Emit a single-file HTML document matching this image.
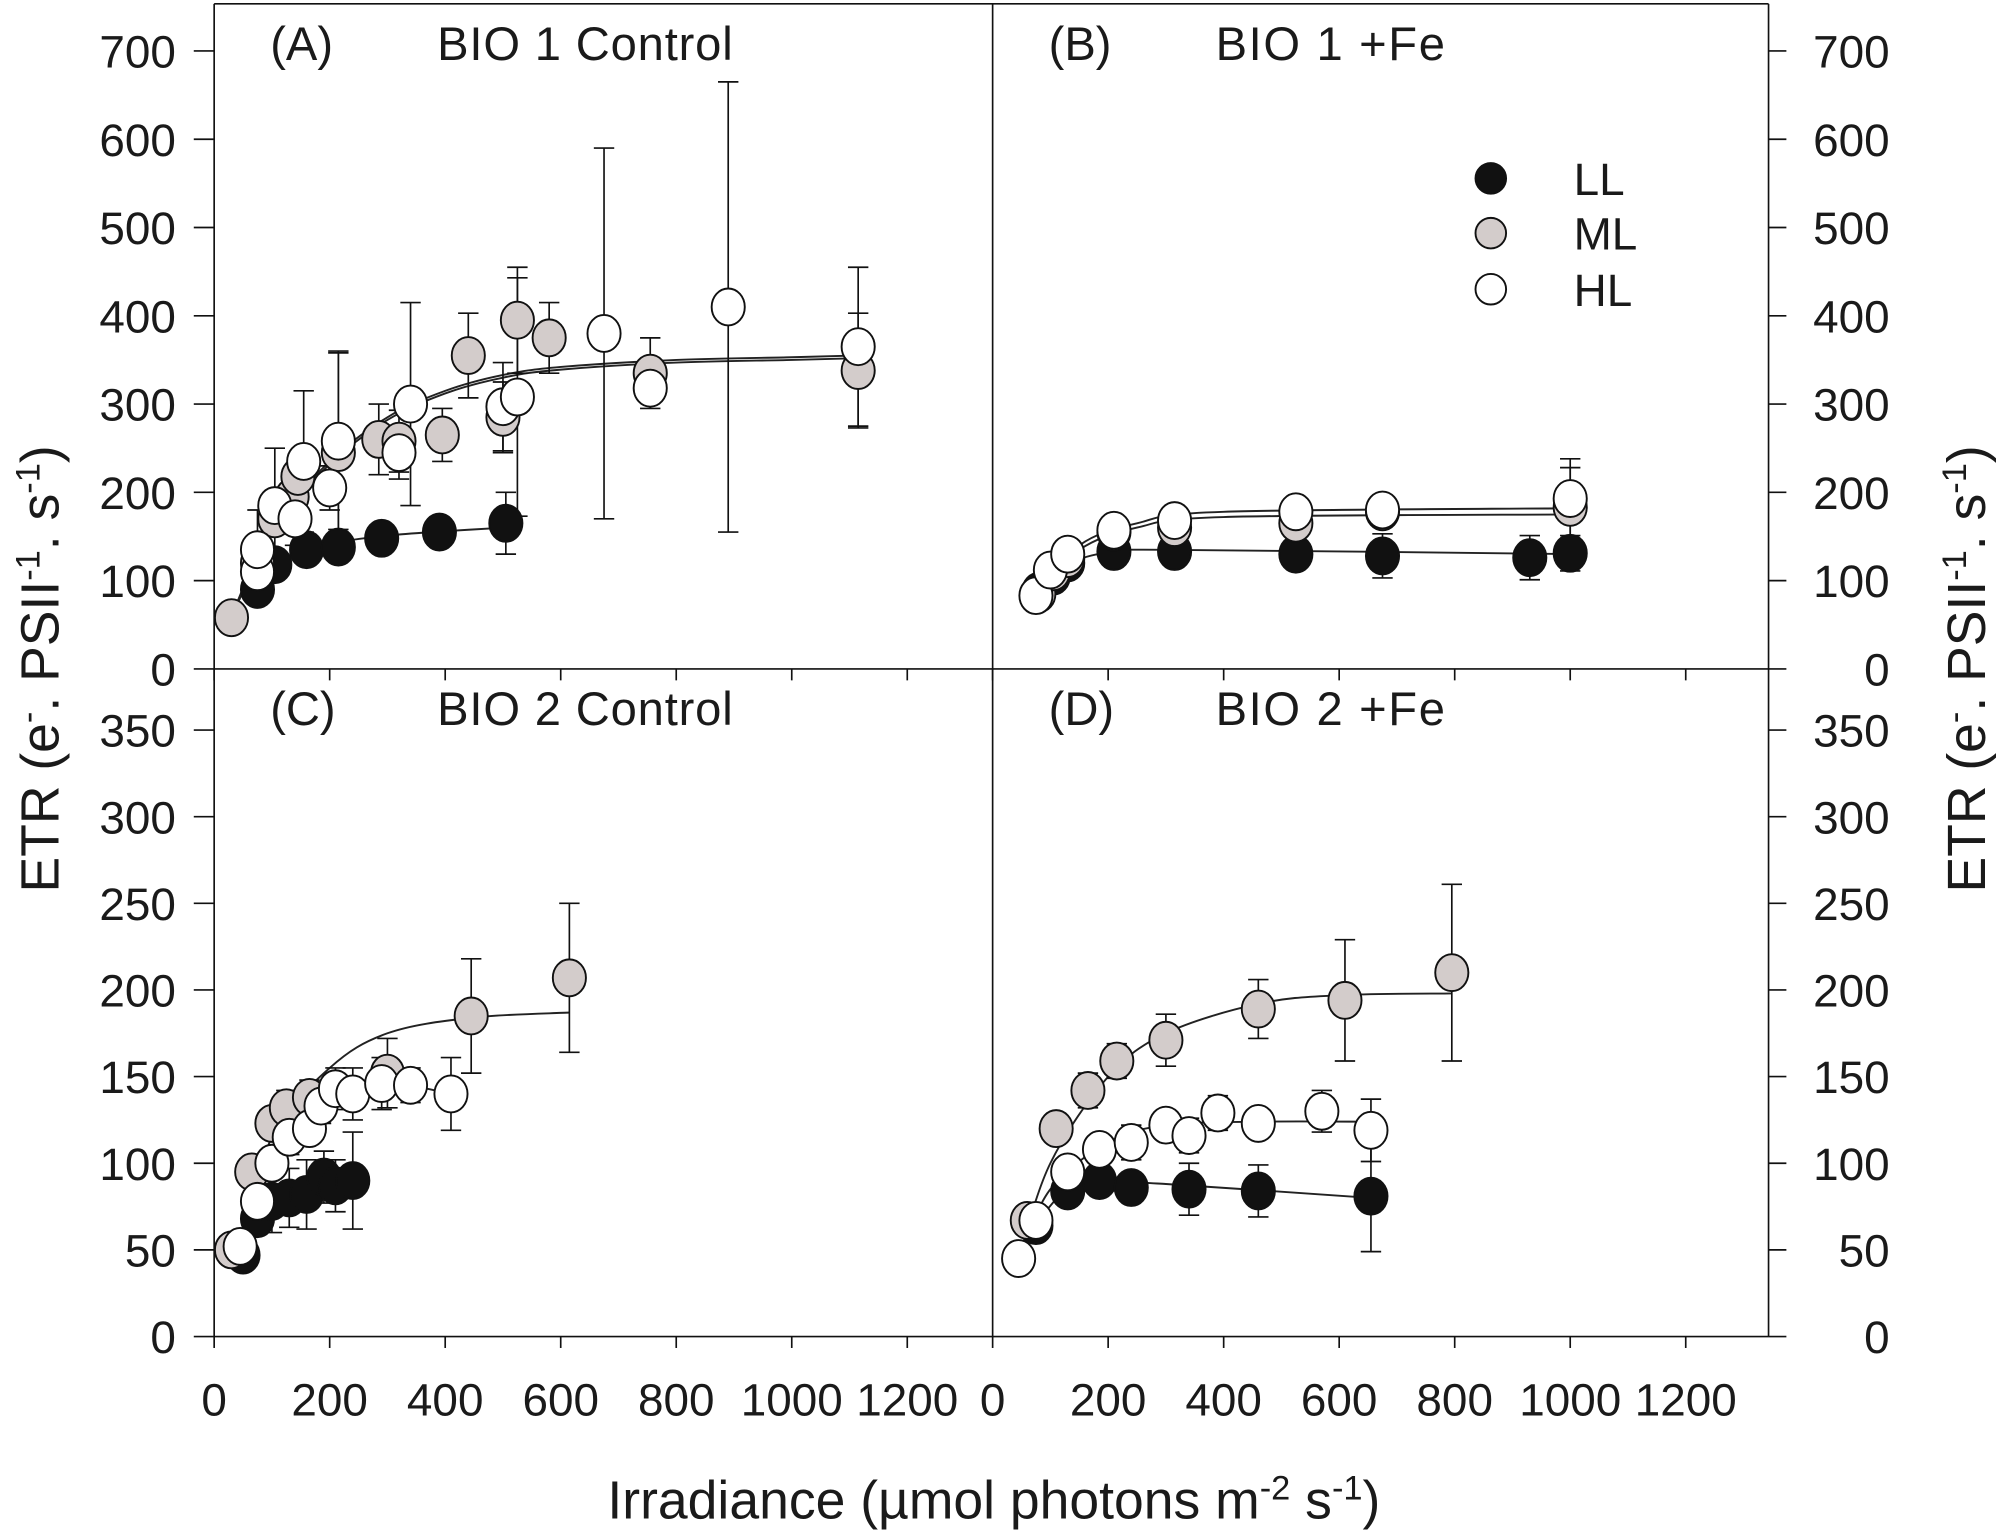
<!DOCTYPE html>
<html><head><meta charset="utf-8"><style>
html,body{margin:0;padding:0;background:#fff;}
svg text{font-family:"Liberation Sans",sans-serif;fill:#1a1a1a;}
</style></head><body>
<svg id="chart" width="1998" height="1534" viewBox="0 0 1568 1204" xmlns="http://www.w3.org/2000/svg">
<g id="frame"></g>
<g id="plots"></g>
<g>
 <circle cx="1170" cy="140" r="12" fill="#111" stroke="#111" stroke-width="1.5"/>
 <text x="1235" y="153" font-size="36">LL</text>
 <circle cx="1170" cy="183" r="12" fill="#d3cccb" stroke="#111" stroke-width="1.5"/>
 <text x="1235" y="196" font-size="36">ML</text>
 <circle cx="1170" cy="227" r="12" fill="#fff" stroke="#111" stroke-width="1.5"/>
 <text x="1235" y="240" font-size="36">HL</text>
</g>
<text x="212" y="47" font-size="37">(A)</text>
<text x="343" y="47" font-size="37" textLength="232">BIO 1 Control</text>
<text x="823" y="47" font-size="37">(B)</text>
<text x="954" y="47" font-size="37" textLength="180">BIO 1 +Fe</text>
<text x="212" y="569" font-size="37">(C)</text>
<text x="343" y="569" font-size="37" textLength="232">BIO 2 Control</text>
<text x="823" y="569" font-size="37">(D)</text>
<text x="954" y="569" font-size="37" textLength="180">BIO 2 +Fe</text>
<text transform="translate(46,525) rotate(-90)" text-anchor="middle" font-size="42">ETR (e<tspan dy="-15" font-size="27">-</tspan><tspan dy="15">. PSII</tspan><tspan dy="-15" font-size="27">-1</tspan><tspan dy="15">. s</tspan><tspan dy="-15" font-size="27">-1</tspan><tspan dy="15">)</tspan></text>
<text transform="translate(1558,525) rotate(-90)" text-anchor="middle" font-size="42">ETR (e<tspan dy="-15" font-size="27">-</tspan><tspan dy="15">. PSII</tspan><tspan dy="-15" font-size="27">-1</tspan><tspan dy="15">. s</tspan><tspan dy="-15" font-size="27">-1</tspan><tspan dy="15">)</tspan></text>
<text x="780" y="1192" text-anchor="middle" font-size="42">Irradiance (µmol photons m<tspan dy="-15" font-size="27">-2</tspan><tspan dy="15"> s</tspan><tspan dy="-15" font-size="27">-1</tspan><tspan dy="15">)</tspan></text>
</svg>
<script>
// ---- data ----
const xTicks=[0,200,400,600,800,1000,1200];
const yTicksTop=[0,100,200,300,400,500,600,700];
const yTicksBottom=[0,50,100,150,200,250,300,350];
// Panel A
const aLLx=[75,105,160,215,290,390,505];
const aLLy=[90,118,135,138,148,155,165];
const aLLe=[0,0,10,10,8,15,35];
const aMLx=[30,75,105,135,145,215,285,320,395,440,500,525,580,755,1115];
const aMLy=[58,120,170,195,218,245,260,258,265,355,285,395,375,335,338];
const aMLe=[0,0,15,20,25,115,40,35,30,48,40,60,40,40,65];
const aHLx=[75,75,105,140,155,200,215,320,340,500,525,675,755,890,1115];
const aHLy=[110,135,185,170,235,205,258,245,300,297,308,380,318,410,365];
const aHLe=[0,45,65,30,80,25,100,30,115,50,135,210,15,255,90];
const aFitLLx=[75,100,150,200,300,400,505];
const aFitLLy=[88,112,133,142,151,156,160];
const aFitMLx=[30,100,200,300,400,500,600,800,1000,1115];
const aFitMLy=[60,160,235,285,315,333,342,350,353,355];
// Panel B
const bLLx=[80,105,130,210,315,525,675,930,1000];
const bLLy=[88,105,120,133,133,130,128,126,131];
const bLLe=[0,0,8,5,5,15,25,25,20];
const bMLx=[80,105,130,210,315,525,675,1000];
const bMLy=[85,110,125,155,160,165,178,183];
const bMLe=[0,0,5,5,10,12,15,45];
const bHLx=[75,100,130,210,315,525,675,1000];
const bHLy=[83,112,130,157,168,178,180,193];
const bHLe=[0,0,5,5,10,15,15,45];
const bFitLLx=[75,130,200,300,1000];
const bFitLLy=[85,118,132,135,130];
const bFitMLx=[75,150,250,400,1000];
const bFitMLy=[85,135,160,172,175];
const bFitHLx=[75,150,250,400,1000];
const bFitHLy=[85,140,165,178,182];
// Panel C
const cLLx=[50,75,100,130,160,190,210,240];
const cLLy=[47,68,78,80,82,92,87,90];
const cLLe=[0,0,18,17,20,15,15,28];
const cMLx=[30,65,100,125,165,300,445,615];
const cMLy=[50,95,123,132,138,152,185,207];
const cMLe=[0,0,0,10,10,20,33,43];
const cHLx=[45,75,100,130,165,185,210,240,290,340,410];
const cHLy=[52,78,100,115,120,133,143,140,146,145,140];
const cHLe=[0,0,0,10,8,10,12,15,15,10,21];
const cFitLLx=[45,75,100,240];
const cFitLLy=[45,68,76,90];
const cFitMLx=[40,100,200,300,445,615];
const cFitMLy=[45,115,155,175,184,187];
const cFitHLx=[40,100,200,300,410];
const cFitHLy=[45,100,137,146,140];
// Panel D
const dLLx=[75,130,185,240,340,460,655];
const dLLy=[64,84,90,86,85,84,81];
const dLLe=[0,0,8,8,15,15,32];
const dMLx=[60,110,165,215,300,460,610,795];
const dMLy=[67,120,142,159,171,189,194,210];
const dMLe=[0,0,10,10,15,17,35,51];
const dHLx=[45,75,130,185,240,300,340,390,460,570,655];
const dHLy=[45,67,95,108,112,122,116,129,123,130,119];
const dHLe=[0,0,0,8,10,8,10,10,8,12,18];
const dFitLLx=[75,130,200,300,655];
const dFitLLy=[65,85,89,88,80];
const dFitMLx=[45,100,200,300,460,600,795];
const dFitMLy=[45,100,150,175,192,197,198];
const dFitHLx=[45,100,200,300,460,655];
const dFitHLy=[45,85,112,122,124,124];

// ---- drawing ----
const NS="http://www.w3.org/2000/svg";
const frame=document.getElementById('frame');
const plots=document.getElementById('plots');
function mk(tag,parent,attrs){const e=document.createElementNS(NS,tag);for(const k in attrs)e.setAttribute(k,attrs[k]);parent.appendChild(e);return e;}
const L=168,M=779,R=1388,T=3,MID=525,B=1049;
const COL={LL:'#111',ML:'#d3cccb',HL:'#fff'};
function xs(x0){return v=>x0+v*(544/1200);}
function ysTop(v){return MID-v*(485/700);}
function ysBot(v){return B-v*(476/350);}

[[L,T,R,T],[L,T,L,B],[M,T,M,B],[R,T,R,B],[L,MID,R,MID],[L,B,R,B]].forEach(c=>{
 const ln=mk('line',frame,{x1:c[0],y1:c[1],x2:c[2],y2:c[3],stroke:'#111','stroke-width':1.3});
 
 
});
function yAxis(ticks,ys,side,name){
 ticks.forEach(t=>{
  const y=ys(t);
  if(side==='left'){
   const tk=mk('line',frame,{x1:L-16,y1:y,x2:L,y2:y,stroke:'#111','stroke-width':1.3});
   
   const tx=mk('text',frame,{x:138,y:y+13,'text-anchor':'end','font-size':36});
   tx.textContent=t;
  }else{
   const tk=mk('line',frame,{x1:R,y1:y,x2:R+14,y2:y,stroke:'#111','stroke-width':1.3});
   
   const tx=mk('text',frame,{x:1483,y:y+13,'text-anchor':'end','font-size':36});
   tx.textContent=t;
  }
 });
}
yAxis(yTicksTop,ysTop,'left','y-left-top');
yAxis(yTicksBottom,ysBot,'left','y-left-bottom');
yAxis(yTicksTop,ysTop,'right','y-right-top');
yAxis(yTicksBottom,ysBot,'right','y-right-bottom');
[L,M].forEach(x0=>{
 const sx=xs(x0);
 xTicks.forEach(t=>{
  [MID,B].forEach(yb=>{
   const tk=mk('line',frame,{x1:sx(t),y1:yb,x2:sx(t),y2:yb+9,stroke:'#111','stroke-width':1.3});
   
  });
  const tx=mk('text',frame,{x:sx(t),y:1111,'text-anchor':'middle','font-size':36});
  tx.textContent=t;
 });
});

function fit(xArr,yArr,sx,sy,name){
 const P=xArr.map((v,i)=>[sx(v),sy(yArr[i])]);
 let d='M'+P[0][0].toFixed(1)+','+P[0][1].toFixed(1);
 for(let i=0;i<P.length-1;i++){
  const p0=P[Math.max(0,i-1)],p1=P[i],p2=P[i+1],p3=P[Math.min(P.length-1,i+2)];
  const c1=[p1[0]+(p2[0]-p0[0])/6,p1[1]+(p2[1]-p0[1])/6];
  const c2=[p2[0]-(p3[0]-p1[0])/6,p2[1]-(p3[1]-p1[1])/6];
  d+=`C${c1[0].toFixed(1)},${c1[1].toFixed(1)} ${c2[0].toFixed(1)},${c2[1].toFixed(1)} ${p2[0].toFixed(1)},${p2[1].toFixed(1)}`;
 }
 const p=mk('path',plots,{d:d,fill:'none',stroke:'#222','stroke-width':1.5});
 
 
}
function errs(xArr,yArr,eArr,sx,sy,name){
 xArr.forEach((v,i)=>{
  if(!eArr[i])return;
  const x=sx(v),y1=sy(yArr[i]-eArr[i]),y2=sy(yArr[i]+eArr[i]);
  const g=mk('path',plots,{d:`M${x},${y1}L${x},${y2}M${x-8},${y1}L${x+8},${y1}M${x-8},${y2}L${x+8},${y2}`,stroke:'#111','stroke-width':1.3,fill:'none'});
  
  
 });
}
function pts(xArr,yArr,sx,sy,col,name){
 xArr.forEach((v,i)=>{
  const c=mk('ellipse',plots,{cx:sx(v),cy:sy(yArr[i]),rx:13,ry:14.5,fill:col,stroke:'#111','stroke-width':1.5});
  
  
 });
}
const panels=[
 {id:'a',sx:xs(L),sy:ysTop,s:[[aLLx,aLLy,aLLe,'LL'],[aMLx,aMLy,aMLe,'ML'],[aHLx,aHLy,aHLe,'HL']],f:[[aFitLLx,aFitLLy,'ll'],[aFitMLx,aFitMLy,'ml'],[aFitMLx.map(v=>v),aFitMLy.map(v=>v-3),'hl']]},
 {id:'b',sx:xs(M),sy:ysTop,s:[[bLLx,bLLy,bLLe,'LL'],[bMLx,bMLy,bMLe,'ML'],[bHLx,bHLy,bHLe,'HL']],f:[[bFitLLx,bFitLLy,'ll'],[bFitMLx,bFitMLy,'ml'],[bFitHLx,bFitHLy,'hl']]},
 {id:'c',sx:xs(L),sy:ysBot,s:[[cLLx,cLLy,cLLe,'LL'],[cMLx,cMLy,cMLe,'ML'],[cHLx,cHLy,cHLe,'HL']],f:[[cFitLLx,cFitLLy,'ll'],[cFitMLx,cFitMLy,'ml'],[cFitHLx,cFitHLy,'hl']]},
 {id:'d',sx:xs(M),sy:ysBot,s:[[dLLx,dLLy,dLLe,'LL'],[dMLx,dMLy,dMLe,'ML'],[dHLx,dHLy,dHLe,'HL']],f:[[dFitLLx,dFitLLy,'ll'],[dFitMLx,dFitMLy,'ml'],[dFitHLx,dFitHLy,'hl']]}
];
panels.forEach(p=>{
 p.f.forEach(f=>fit(f[0],f[1],p.sx,p.sy,'panel-'+p.id+'-fit-'+f[2]));
 p.s.forEach(s=>errs(s[0],s[1],s[2],p.sx,p.sy,'panel-'+p.id+'-errorbar-'+s[3].toLowerCase()));
 p.s.forEach(s=>pts(s[0],s[1],p.sx,p.sy,COL[s[3]],'panel-'+p.id+'-point-'+s[3].toLowerCase()));
});
</script>
</body></html>
